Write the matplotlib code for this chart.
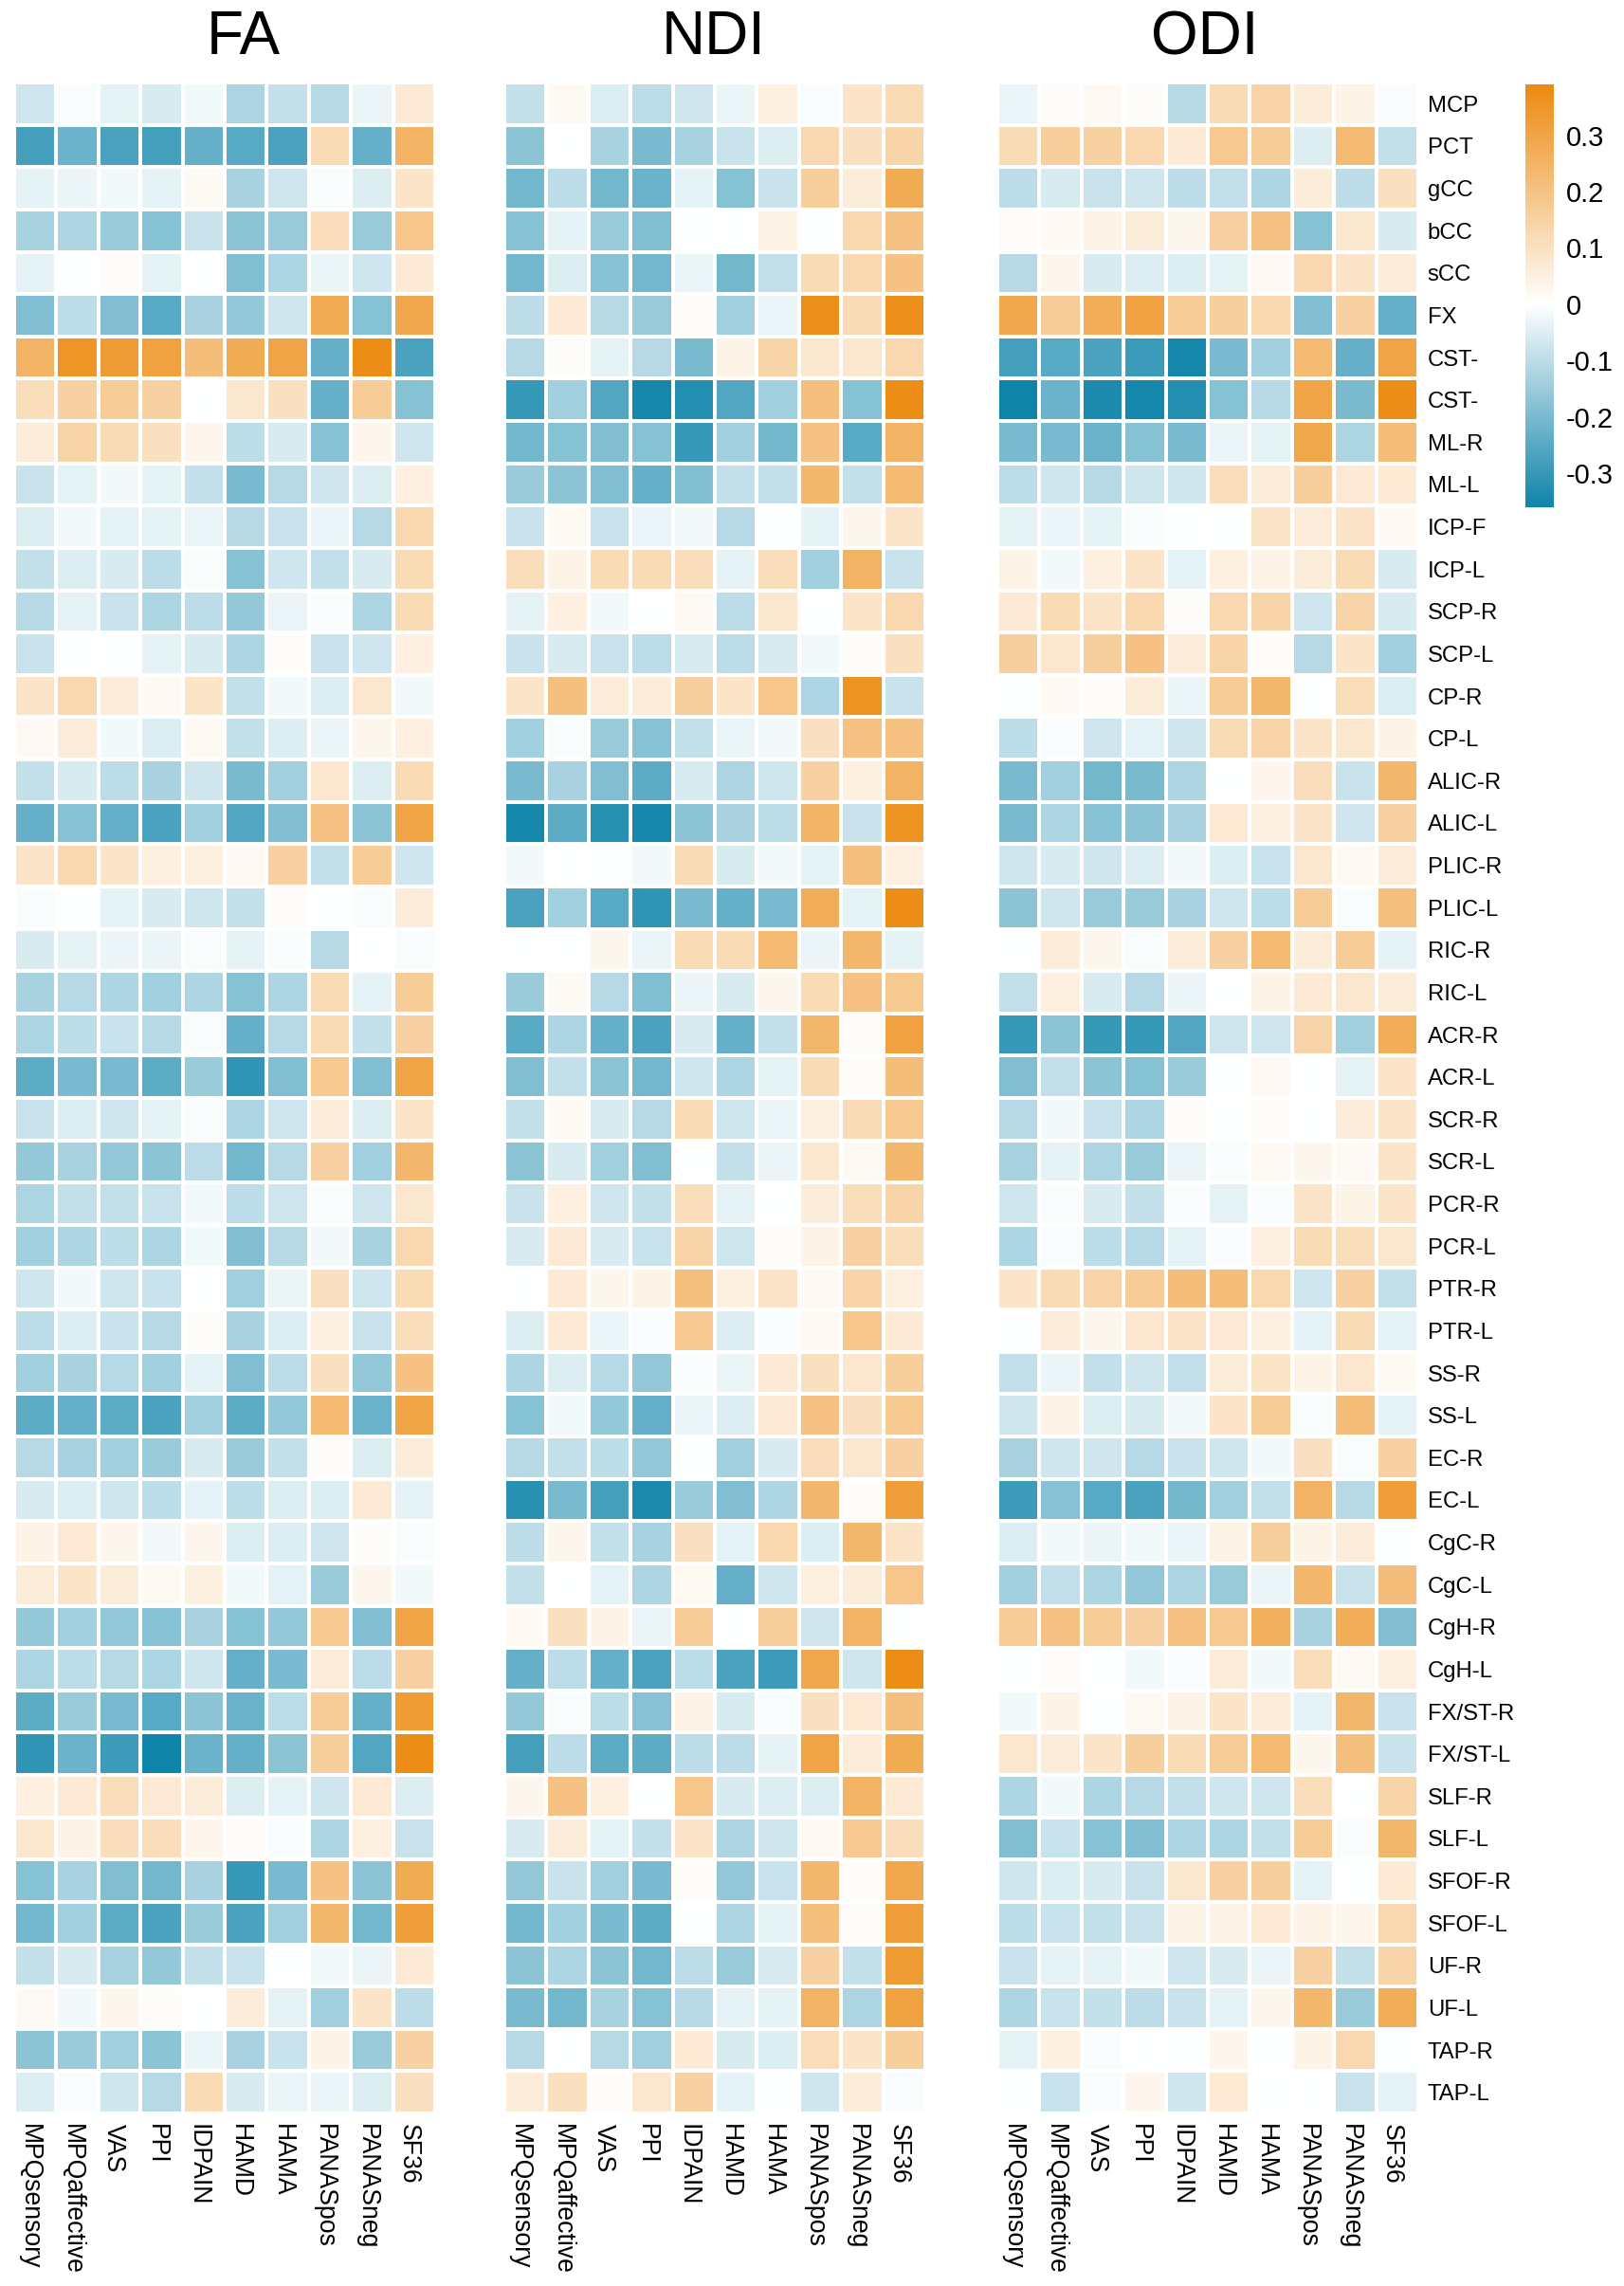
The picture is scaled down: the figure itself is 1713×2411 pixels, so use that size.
import numpy as np
import matplotlib
matplotlib.use('Agg')
import matplotlib.pyplot as plt
from matplotlib.colors import LinearSegmentedColormap, Normalize
from matplotlib.transforms import ScaledTranslation

plt.rcParams['font.family'] = ['Liberation Sans', 'DejaVu Sans']

#Row and column names, the clipped ones as they show in the picture
tracts = ['MCP', 'PCT', 'gCC', 'bCC', 'sCC', 'FX', 'CST-', 'CST-', 'ML-R', 'ML-L',
          'ICP-F', 'ICP-L', 'SCP-R', 'SCP-L', 'CP-R', 'CP-L', 'ALIC-R', 'ALIC-L',
          'PLIC-R', 'PLIC-L', 'RIC-R', 'RIC-L', 'ACR-R', 'ACR-L', 'SCR-R', 'SCR-L',
          'PCR-R', 'PCR-L', 'PTR-R', 'PTR-L', 'SS-R', 'SS-L', 'EC-R', 'EC-L',
          'CgC-R', 'CgC-L', 'CgH-R', 'CgH-L', 'FX/ST-R', 'FX/ST-L', 'SLF-R', 'SLF-L',
          'SFOF-R', 'SFOF-L', 'UF-R', 'UF-L', 'TAP-R', 'TAP-L']
scores = ['MPQsensory', 'MPQaffective', 'VAS', 'PPI', 'IDPAIN', 'HAMD', 'HAMA',
          'PANASpos', 'PANASneg', 'SF36']

#Correlations, in hundredths
fa = [
    [-7, -1, -4, -6, -2, -12, -9, -11, -3, 7],
    [-28, -22, -27, -28, -23, -25, -27, 12, -23, 25],
    [-4, -3, -2, -4, 2, -13, -7, -1, -5, 9],
    [-13, -12, -15, -18, -8, -17, -15, 11, -15, 19],
    [-4, 0, 1, -4, 0, -19, -12, -3, -7, 7],
    [-19, -10, -19, -25, -13, -16, -7, 28, -18, 29],
    [25, 35, 33, 31, 22, 28, 30, -23, 38, -27],
    [11, 15, 17, 15, 0, 8, 10, -23, 17, -18],
    [6, 14, 12, 10, 3, -10, -6, -18, 3, -7],
    [-8, -4, -2, -4, -9, -20, -11, -7, -5, 5],
    [-5, -2, -4, -4, -3, -11, -8, -3, -11, 13],
    [-9, -5, -6, -10, -1, -18, -7, -9, -6, 12],
    [-11, -4, -8, -12, -10, -16, -3, -1, -12, 12],
    [-8, 0, 0, -4, -6, -12, 1, -8, -7, 5],
    [9, 13, 6, 2, 9, -9, -2, -5, 8, -2],
    [2, 6, -2, -5, 2, -9, -5, -3, 3, 5],
    [-9, -6, -10, -13, -7, -20, -14, 8, -5, 12],
    [-23, -18, -23, -27, -14, -26, -19, 20, -17, 30],
    [9, 13, 9, 5, 5, 2, 15, -9, 17, -7],
    [-1, 0, -4, -6, -7, -9, 1, 0, -1, 6],
    [-6, -4, -3, -3, -1, -4, -1, -11, 0, -1],
    [-13, -11, -12, -14, -12, -18, -12, 12, -4, 17],
    [-12, -10, -8, -11, -1, -23, -11, 12, -9, 15],
    [-24, -20, -20, -24, -15, -31, -19, 18, -19, 30],
    [-8, -5, -7, -4, -1, -12, -7, 6, -5, 9],
    [-16, -13, -16, -17, -10, -21, -11, 15, -14, 24],
    [-12, -9, -9, -8, -2, -10, -7, -1, -7, 8],
    [-14, -12, -10, -12, -2, -19, -11, -2, -13, 13],
    [-7, -2, -7, -8, 0, -14, -3, 10, -7, 12],
    [-10, -5, -8, -11, 1, -13, -5, 5, -8, 11],
    [-14, -13, -11, -14, -4, -19, -10, 10, -16, 20],
    [-24, -23, -24, -27, -14, -24, -16, 23, -22, 30],
    [-11, -13, -14, -15, -6, -15, -9, 1, -5, 6],
    [-6, -5, -7, -10, -4, -10, -5, -5, 7, -4],
    [4, 7, 3, -2, 3, -5, -5, -7, 1, -1],
    [6, 9, 6, 2, 5, -2, -4, -15, 3, -2],
    [-16, -14, -16, -18, -13, -18, -16, 18, -19, 30],
    [-12, -10, -11, -12, -7, -23, -20, 6, -10, 15],
    [-24, -15, -20, -25, -17, -22, -10, 17, -23, 33],
    [-31, -22, -29, -36, -22, -23, -17, 16, -26, 38],
    [5, 7, 11, 7, 6, -5, -4, -7, 7, -5],
    [8, 4, 11, 11, 3, 1, -1, -12, 5, -8],
    [-18, -13, -19, -21, -13, -30, -20, 20, -17, 28],
    [-21, -14, -24, -27, -15, -27, -14, 24, -21, 32],
    [-9, -6, -13, -16, -9, -8, 0, -2, -3, 7],
    [2, -2, 3, 1, 0, 6, -4, -14, 9, -10],
    [-17, -15, -14, -17, -3, -13, -8, 4, -15, 15],
    [-5, -1, -7, -11, 12, -6, -3, -3, -5, 10],
]

ndi = [
    [-9, 2, -5, -10, -7, -3, 5, -1, 9, 12],
    [-17, 0, -13, -20, -13, -8, -5, 13, 10, 14],
    [-21, -10, -21, -22, -4, -18, -8, 16, 6, 28],
    [-18, -4, -15, -19, 0, 0, 4, 0, 13, 20],
    [-21, -5, -18, -21, -3, -21, -9, 12, 13, 20],
    [-10, 7, -11, -15, 1, -14, -3, 37, 12, 37],
    [-11, 1, -4, -11, -20, 4, 14, 8, 8, 13],
    [-30, -14, -26, -35, -33, -26, -14, 21, -18, 38],
    [-21, -18, -19, -18, -30, -14, -21, 20, -25, 25],
    [-15, -17, -19, -23, -19, -9, -9, 24, -9, 23],
    [-8, 2, -8, -3, -2, -11, 0, -4, 3, 9],
    [11, 4, 12, 12, 11, -4, 11, -14, 25, -8],
    [-4, 5, -2, 0, 2, -10, 8, 0, 9, 13],
    [-8, -6, -8, -10, -6, -10, -6, -2, 1, 10],
    [9, 21, 6, 6, 16, 9, 19, -12, 36, -8],
    [-14, -1, -15, -18, -9, -3, -2, 10, 20, 20],
    [-20, -13, -19, -24, -6, -12, -7, 15, 5, 25],
    [-35, -24, -32, -35, -17, -13, -10, 25, -8, 36],
    [-2, 0, 0, -2, 12, -6, -2, -4, 21, 5],
    [-27, -14, -25, -31, -20, -23, -20, 27, -4, 38],
    [0, 0, 3, -3, 12, 12, 23, -3, 24, -4],
    [-15, 2, -11, -19, -3, -6, 3, 12, 20, 18],
    [-25, -12, -23, -27, -6, -23, -9, 24, 1, 31],
    [-19, -9, -17, -21, -7, -12, -4, 12, 1, 22],
    [-9, 2, -6, -11, 12, -7, -3, 5, 12, 18],
    [-17, -6, -14, -19, 0, -9, -3, 8, 2, 24],
    [-8, 5, -7, -9, 11, -4, 0, 6, 11, 14],
    [-6, 7, -6, -8, 14, -7, 1, 4, 15, 11],
    [0, 7, 3, 4, 21, 5, 9, 2, 14, 5],
    [-5, 7, -3, -1, 18, -5, -1, 2, 19, 7],
    [-12, -5, -11, -16, -1, -3, 7, 10, 8, 16],
    [-18, -2, -16, -23, -3, -5, 7, 20, 10, 18],
    [-11, -9, -10, -16, 0, -14, -6, 11, 8, 15],
    [-32, -20, -28, -34, -15, -19, -12, 24, 1, 32],
    [-10, 3, -9, -13, 10, -4, 13, -5, 24, 9],
    [-9, 0, -4, -12, 2, -23, -7, 5, 6, 19],
    [2, 10, 4, -3, 17, 0, 16, -7, 25, 0],
    [-23, -10, -23, -27, -10, -27, -29, 29, -7, 38],
    [-16, -1, -10, -18, 4, -6, -1, 10, 7, 21],
    [-28, -10, -24, -24, -10, -10, -4, 30, 6, 28],
    [3, 20, 5, 0, 19, -6, -5, -5, 25, 7],
    [-6, 6, -4, -9, 9, -12, -7, 2, 18, 11],
    [-16, -8, -14, -20, 1, -16, -8, 24, 1, 29],
    [-21, -14, -20, -24, 0, -12, -4, 21, 1, 32],
    [-17, -12, -17, -21, -10, -15, -6, 15, -9, 33],
    [-20, -21, -13, -18, -11, -4, -4, 25, -12, 31],
    [-11, 0, -11, -14, 7, -6, -5, 11, 9, 16],
    [6, 10, 1, 8, 15, -4, 0, -7, 6, -1],
]

odi = [
    [-3, 1, 2, 1, -11, 12, 14, 6, 4, -1],
    [12, 16, 15, 13, 7, 18, 17, -5, 23, -9],
    [-10, -6, -8, -7, -10, -9, -12, 6, -10, 10],
    [1, 2, 4, 6, 3, 15, 20, -18, 8, -6],
    [-11, 3, -6, -5, -5, -4, 2, 13, 9, 6],
    [29, 17, 27, 31, 17, 16, 13, -19, 15, -23],
    [-28, -25, -27, -29, -35, -20, -14, 23, -23, 30],
    [-36, -22, -34, -35, -33, -18, -11, 30, -20, 38],
    [-20, -20, -22, -18, -20, -3, -4, 29, -12, 22],
    [-10, -7, -11, -7, -7, 11, 6, 16, 7, 7],
    [-4, -3, -4, -1, 0, 0, 9, 6, 9, 2],
    [4, -2, 5, 9, -4, 5, 4, 6, 12, -6],
    [7, 12, 9, 13, 1, 13, 14, -7, 14, -6],
    [16, 8, 16, 20, 6, 14, 1, -11, 9, -14],
    [0, 2, 1, 6, -3, 17, 24, 0, 11, -5],
    [-10, -1, -7, -4, -7, 12, 14, 9, 8, 4],
    [-20, -14, -21, -20, -12, 0, 3, 11, -8, 24],
    [-20, -12, -18, -17, -13, 7, 5, 9, -7, 15],
    [-7, -6, -7, -5, -2, -5, -8, 8, 2, 6],
    [-17, -7, -15, -15, -13, -7, -10, 17, -1, 21],
    [0, 6, 3, -1, 6, 15, 23, 6, 17, -4],
    [-9, 5, -6, -11, -3, 0, 4, 7, 8, 6],
    [-30, -17, -30, -30, -26, -7, -7, 14, -14, 27],
    [-19, -9, -17, -18, -15, 0, 2, 0, -4, 9],
    [-11, -2, -8, -12, 1, 0, 1, 0, 6, 9],
    [-13, -4, -12, -15, -3, -1, 2, 3, 2, 9],
    [-7, -1, -6, -9, -1, -4, -1, 9, 4, 9],
    [-12, -1, -10, -11, -4, -1, 5, 12, 11, 8],
    [9, 12, 14, 17, 22, 22, 13, -7, 15, -9],
    [0, 6, 3, 8, 9, 7, 5, -4, 12, -4],
    [-9, -3, -9, -7, -9, 6, 9, 4, 8, 2],
    [-7, 4, -5, -6, -2, 9, 17, -1, 22, -4],
    [-13, -7, -7, -11, -8, -7, -2, 10, -1, 15],
    [-29, -18, -25, -27, -21, -14, -9, 25, -11, 32],
    [-5, -2, -3, -2, -3, 4, 16, 4, 6, 0],
    [-14, -9, -12, -16, -12, -15, -3, 24, -8, 22],
    [17, 20, 17, 15, 20, 18, 26, -13, 27, -19],
    [0, 1, 0, -2, -1, 6, -2, 11, 2, 5],
    [-2, 4, 0, 2, 4, 9, 6, -4, 24, -8],
    [8, 6, 9, 16, 12, 17, 23, 3, 21, -8],
    [-12, -2, -12, -11, -9, -7, -7, 11, 0, 14],
    [-19, -8, -18, -19, -12, -12, -9, 17, -1, 24],
    [-7, -5, -6, -8, 8, 15, 16, -4, 0, 7],
    [-10, -8, -9, -8, 4, 4, 7, 4, 3, 13],
    [-8, -4, -4, -2, -7, -6, -3, 15, -9, 14],
    [-12, -8, -9, -10, -8, -4, 3, 24, -15, 27],
    [-4, 5, -1, 0, 0, 3, 0, 4, 13, 0],
    [0, -8, -1, 3, -7, 7, 0, 0, -8, -4],
]

cbar_ticks = [-0.3, -0.2, -0.1, 0, 0.1, 0.2, 0.3]
cbar_labels = ['-0.3', '-0.2', '-0.1', '0', '0.1', '0.2', '0.3']

W, H = 1713, 2411


def px_axes(fig, left, top, right, bottom):
    #axes placed by pixel edges of the picture, y counted from the top
    return fig.add_axes([left / W, 1 - bottom / H, (right - left) / W, (bottom - top) / H])


vmin, vmax = -0.36, 0.39
#white sits at 0, which is not the middle of the range
cmap = LinearSegmentedColormap.from_list(
    'blue_orange', [(0, '#0F84A9'), (-vmin / (vmax - vmin), '#FFFFFF'), (1, '#EC8A10')])
norm = Normalize(vmin=vmin, vmax=vmax)

fig = plt.figure(figsize=(W / 100, H / 100), dpi=100, facecolor='white')

#the rotated names sit a little left of the cell centres
label_shift = ScaledTranslation(-6 / 100, 0, fig.dpi_scale_trans)

panels = [('FA', fa, 15, 459, 257), ('NDI', ndi, 532, 976, 753), ('ODI', odi, 1052, 1496, 1271)]
for name, values, left, right, title_x in panels:
    ax = px_axes(fig, left, 87, right, 2229)
    mesh = ax.pcolormesh(np.array(values) / 100, cmap=cmap, norm=norm,
                         edgecolors='white', linewidth=1.5)
    ax.invert_yaxis()
    for side in ax.spines.values():
        side.set_visible(False)
    ax.set_xticks(np.arange(len(scores)) + 0.5)
    ax.set_xticklabels(scores, rotation=-90, ha='center', va='top', fontsize=19.2)
    ax.tick_params(axis='x', length=0, pad=8, bottom=True, labelbottom=True)
    for label in ax.get_xticklabels():
        label.set_transform(label.get_transform() + label_shift)
    if name == 'ODI':
        ax.yaxis.tick_right()
        ax.set_yticks(np.arange(len(tracts)) + 0.5)
        ax.set_yticklabels(tracts, fontsize=17.2)
        ax.tick_params(axis='y', length=0, pad=7)
    else:
        ax.set_yticks([])
    fig.text(title_x / W, 1 - 57 / H, name, ha='center', va='baseline', fontsize=46)

cax = px_axes(fig, 1609, 89, 1639, 535)
cbar = fig.colorbar(mesh, cax=cax)
cbar.outline.set_visible(False)
cbar.set_ticks(cbar_ticks)
cbar.set_ticklabels(cbar_labels)
cbar.ax.tick_params(length=0, pad=9, labelsize=21)

fig.savefig('out.png', dpi=100)
